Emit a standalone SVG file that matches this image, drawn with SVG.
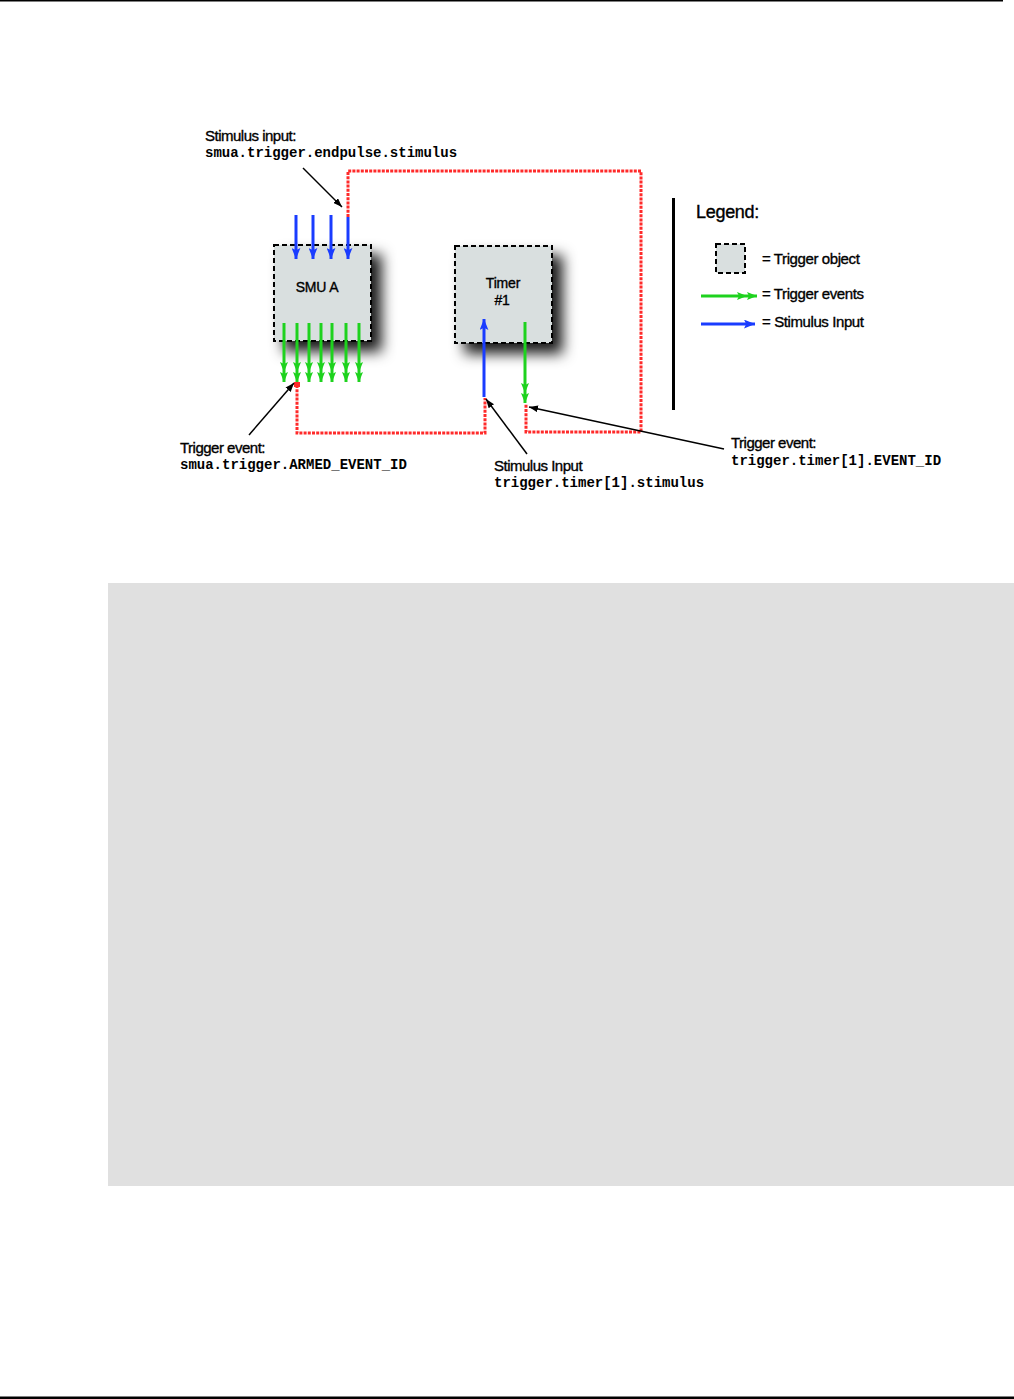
<svg xmlns="http://www.w3.org/2000/svg" width="1014" height="1399" viewBox="0 0 1014 1399">
<style>
.lbl{font-family:"Liberation Sans",Arial,sans-serif;font-size:15px;letter-spacing:-0.5px;fill:#000;stroke:#000;stroke-width:0.35}
.sm{font-size:14px;letter-spacing:-0.2px}
.lg{font-size:15px;letter-spacing:-0.4px}
.big{font-size:18px;letter-spacing:-0.3px}
.mono{font-family:"Liberation Mono","Courier New",monospace;font-size:14px;font-weight:bold;fill:#000}
.node{fill:#d9dfdf;stroke:#000;stroke-width:2;stroke-dasharray:5,3}
.red{fill:none;stroke:#ff2a2a;stroke-width:3;stroke-dasharray:3,1.2}
.blue{stroke:#1a3cff;stroke-width:3;fill:none}
.green{stroke:#1ed21e;stroke-width:3;fill:none}
.lead{stroke:#000;stroke-width:1.5;fill:none}
</style>
<defs>
<filter id="sh" x="-40%" y="-40%" width="190%" height="190%">
<feDropShadow dx="10" dy="10" stdDeviation="7" flood-color="#000" flood-opacity="0.9"/>
</filter>
<marker id="bh" viewBox="0 0 10 8" refX="10" refY="4" markerWidth="11" markerHeight="9" markerUnits="userSpaceOnUse" orient="auto"><path d="M0,0 L10,4 L0,8 L2,4 z" fill="#1a3cff"/></marker>
<marker id="gh" viewBox="0 0 20 8" refX="20" refY="4" markerWidth="20" markerHeight="9" markerUnits="userSpaceOnUse" orient="auto"><path d="M0,0 L10,4 L0,8 L2,4 z M10,0 L20,4 L10,8 L12,4 z" fill="#1ed21e"/></marker>
<marker id="kh" viewBox="0 0 8 6" refX="8" refY="3" markerWidth="9" markerHeight="7" markerUnits="userSpaceOnUse" orient="auto"><path d="M0,0 L8,3 L0,6 z" fill="#000"/></marker>
</defs>
<rect x="0" y="0" width="1003" height="1.5" fill="#000"/>
<rect x="0" y="1396.5" width="1014" height="2.5" fill="#000"/>
<rect x="108" y="583" width="906" height="603" fill="#e0e0e0"/>

<g id="smua">
<rect class="node" x="274" y="245" width="97" height="96" filter="url(#sh)"/>
<rect class="node" x="274" y="245" width="97" height="96"/>
<text x="317" y="292" class="lbl sm" text-anchor="middle">SMU A</text>
</g>
<g id="timer1">
<rect class="node" x="455" y="246" width="97" height="97" filter="url(#sh)"/>
<rect class="node" x="455" y="246" width="97" height="97"/>
<text x="503" y="288" class="lbl sm" text-anchor="middle">Timer</text>
<text x="502" y="305" class="lbl sm" text-anchor="middle">#1</text>
</g>

<g id="connectors">
<path class="red" d="M348,217 L348,171 L641,171 L641,432 L526,432 L526,404"/>
<path class="red" d="M297,385 L297,433 L485,433 L485,398"/>
<rect x="294" y="382" width="6" height="5" fill="#ff2a2a"/>
<line class="blue" x1="296" y1="215" x2="296" y2="259" marker-end="url(#bh)"/>
<line class="blue" x1="313" y1="215" x2="313" y2="259" marker-end="url(#bh)"/>
<line class="blue" x1="331" y1="215" x2="331" y2="259" marker-end="url(#bh)"/>
<line class="blue" x1="348" y1="217" x2="348" y2="259" marker-end="url(#bh)"/>
<line class="green" x1="284" y1="323" x2="284" y2="382" marker-end="url(#gh)"/>
<line class="green" x1="297" y1="323" x2="297" y2="382" marker-end="url(#gh)"/>
<line class="green" x1="309" y1="323" x2="309" y2="382" marker-end="url(#gh)"/>
<line class="green" x1="321" y1="323" x2="321" y2="382" marker-end="url(#gh)"/>
<line class="green" x1="332" y1="323" x2="332" y2="382" marker-end="url(#gh)"/>
<line class="green" x1="346" y1="323" x2="346" y2="382" marker-end="url(#gh)"/>
<line class="green" x1="359" y1="323" x2="359" y2="382" marker-end="url(#gh)"/>
<line class="blue" x1="484" y1="397" x2="484" y2="319" marker-end="url(#bh)"/>
<line class="green" x1="525" y1="322" x2="525" y2="403" marker-end="url(#gh)"/>
<line class="lead" x1="303" y1="168" x2="342" y2="207" marker-end="url(#kh)"/>
<line class="lead" x1="249" y1="435" x2="294" y2="383" marker-end="url(#kh)"/>
<line class="lead" x1="527" y1="454" x2="486" y2="399" marker-end="url(#kh)"/>
<line class="lead" x1="724" y1="449" x2="529" y2="407" marker-end="url(#kh)"/>
</g>

<g id="labels">
<text x="205" y="141" class="lbl">Stimulus input:</text>
<text x="205" y="157" class="mono">smua.trigger.endpulse.stimulus</text>
<text x="180" y="453" class="lbl">Trigger event:</text>
<text x="180" y="469" class="mono">smua.trigger.ARMED_EVENT_ID</text>
<text x="494" y="471" class="lbl">Stimulus Input</text>
<text x="494" y="487" class="mono">trigger.timer[1].stimulus</text>
<text x="731" y="448" class="lbl">Trigger event:</text>
<text x="731" y="465" class="mono">trigger.timer[1].EVENT_ID</text>
</g>

<g id="legend">
<rect x="672" y="198" width="3" height="212" fill="#000"/>
<text x="696" y="218" class="lbl big">Legend:</text>
<rect class="node" x="716" y="244" width="29" height="29"/>
<text x="762" y="264" class="lbl lg">= Trigger object</text>
<line class="green" x1="701" y1="296" x2="757" y2="296" marker-end="url(#gh)"/>
<text x="762" y="299" class="lbl lg">= Trigger events</text>
<line class="blue" x1="701" y1="324" x2="755" y2="324" marker-end="url(#bh)"/>
<text x="762" y="327" class="lbl lg">= Stimulus Input</text>
</g>
</svg>
